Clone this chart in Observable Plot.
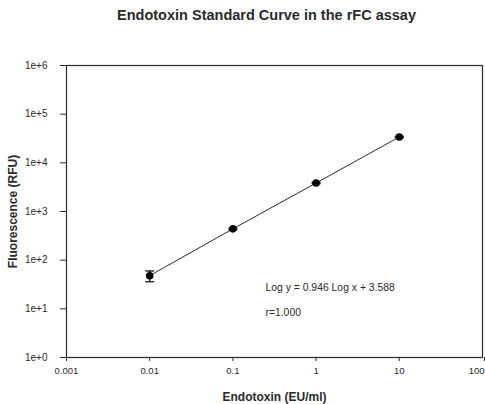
<!DOCTYPE html>
<html>
<head>
<meta charset="utf-8">
<script src="https://cdn.jsdelivr.net/npm/d3@7"></script>
<script src="https://cdn.jsdelivr.net/npm/@observablehq/plot@0.6"></script>
<style>
  html, body { margin: 0; padding: 0; background: #fff; }
</style>
</head>
<body>
<div id="chart"></div>
<script>
// ---- data ----
const concentration = [0.01, 0.1, 1, 10];            // EU/ml
const fluorescence  = [48, 440, 3850, 34000];         // mean RFU
const fluorescenceSD = [12, 15, 120, 1000];           // SD RFU
const xTicks = [0.001, 0.01, 0.1, 1, 10, 100];
const xTickLabels = ["0.001", "0.01", "0.1", "1", "10", "100"];
const yTicks = [1, 10, 100, 1000, 10000, 100000, 1000000];
const yTickLabels = ["1e+0", "1e+1", "1e+2", "1e+3", "1e+4", "1e+5", "1e+6"];
const titleText = "Endotoxin Standard Curve in the rFC assay";
const xLabel = "Endotoxin (EU/ml)";
const yLabel = "Fluorescence (RFU)";
const annotationText = ["Log y = 0.946 Log x + 3.588", "r=1.000"];
const annotationX = [0.246, 0.246];
const annotationY = [27.7, 8.5];

const points = concentration.map((c, i) => ({
  x: c, y: fluorescence[i], lo: fluorescence[i] - fluorescenceSD[i], hi: fluorescence[i] + fluorescenceSD[i]
}));
const notes = annotationText.map((t, i) => ({text: t, x: annotationX[i], y: annotationY[i]}));
const xFmt = (d) => xTickLabels[xTicks.indexOf(d)];
const yFmt = (d) => yTickLabels[yTicks.indexOf(d)];
const lastX = xTicks[xTicks.length - 1];

const capSymbol = {
  draw(context, size) {
    const r = Math.sqrt(size / Math.PI);
    context.moveTo(-r, 0);
    context.lineTo(r, 0);
  }
};

const ink = "#2a2a2a";

const chart = Plot.plot({
  width: 485,
  height: 404,
  marginTop: 65,
  marginBottom: 47,
  marginLeft: 66,
  marginRight: 3,
  style: {fontFamily: "'Liberation Sans', Arial, sans-serif", fontSize: "9.5px", color: ink, background: "#fff"},
  x: {type: "log", domain: [0.001, 100]},
  y: {type: "log", domain: [1, 1000000]},
  marks: [
    Plot.axisX({ticks: xTicks.slice(0, -1), tickFormat: xFmt, tickSize: 4, tickPadding: 6, label: null, stroke: ink, fontSize: 9.5}),
    Plot.axisX({ticks: [lastX], tickFormat: xFmt, tickSize: 4, tickPadding: 6, label: null, stroke: ink, fontSize: 9.5, textAnchor: "end", dx: 2}),
    Plot.axisY({ticks: yTicks, tickFormat: yFmt, tickSize: 6, tickPadding: 13, label: null, stroke: ink, fontSize: 10}),
    Plot.frame({stroke: ink, strokeWidth: 1.2}),
    Plot.line(points, {x: "x", y: "y", stroke: ink, strokeWidth: 1}),
    Plot.ruleX(points, {x: "x", y1: "lo", y2: "hi", stroke: "#000", strokeWidth: 1.2}),
    Plot.dot(points, {x: "x", y: "lo", symbol: capSymbol, r: 4.5, stroke: "#000", strokeWidth: 1.2, fill: "none"}),
    Plot.dot(points, {x: "x", y: "hi", symbol: capSymbol, r: 4.5, stroke: "#000", strokeWidth: 1.2, fill: "none"}),
    Plot.dot(points, {x: "x", y: "y", r: 3.8, fill: "#000", stroke: "none"}),
    Plot.text(notes, {x: "x", y: "y", text: "text", textAnchor: "start", fontSize: 10.4, fill: ink}),
    Plot.text([titleText], {frameAnchor: "top", dx: -8, dy: -50, lineAnchor: "middle", textAnchor: "middle", fontSize: 14.5, fontWeight: "bold", fill: ink}),
    Plot.text([xLabel], {frameAnchor: "bottom", dy: 40, lineAnchor: "middle", textAnchor: "middle", fontSize: 12, fontWeight: "bold", fill: ink}),
    Plot.text([yLabel], {frameAnchor: "left", dx: -53, rotate: -90, lineAnchor: "middle", textAnchor: "middle", fontSize: 12, fontWeight: "bold", fill: ink})
  ]
});
document.getElementById("chart").appendChild(chart);
</script>
</body>
</html>
